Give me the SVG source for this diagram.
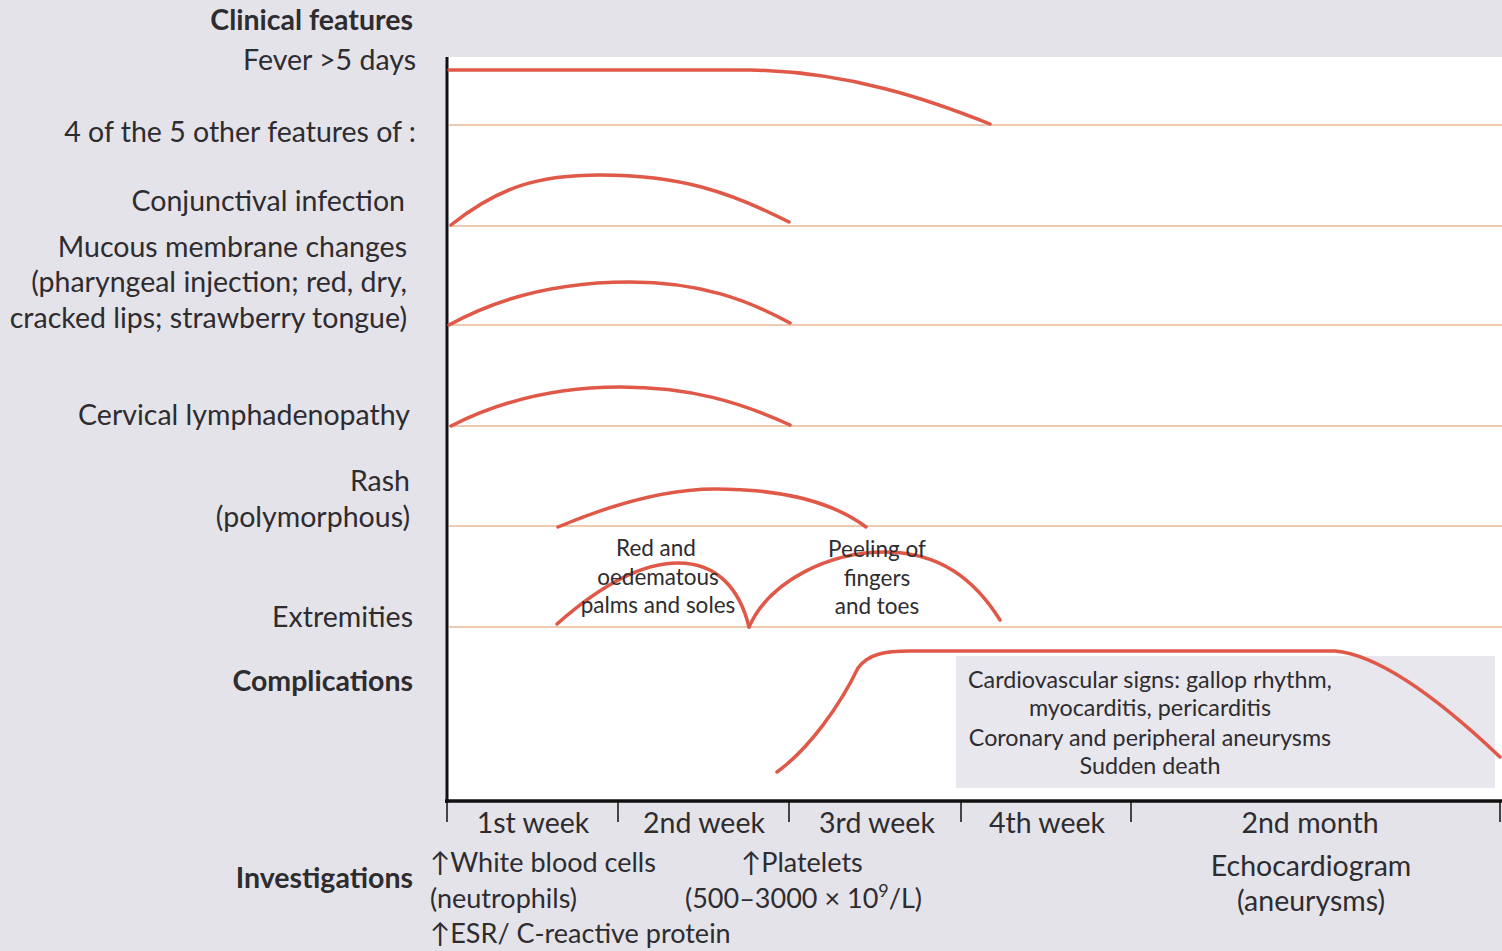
<svg xmlns="http://www.w3.org/2000/svg" width="1502" height="951" viewBox="0 0 1502 951">
<style>
text{font-family:Lato,"Open Sans","Noto Sans",sans-serif;fill:#2e2c2f;}
.lab{font-size:28.5px;text-anchor:end;}
.b{font-weight:bold;}
.ax{font-size:28.5px;text-anchor:middle;}
.inv{font-size:27px;}
.sm{font-size:22.5px;text-anchor:middle;}
.box{font-size:23.3px;text-anchor:middle;}
.grid{stroke:#e9b996;stroke-width:1.6;fill:none;}
.curve{stroke:#e05848;stroke-width:3.5;fill:none;stroke-linecap:round;}
.axis{stroke:#111;fill:none;}
</style>
<rect x="0" y="0" width="1502" height="951" fill="#e4e3ea"/>
<rect x="447" y="57" width="1055" height="744" fill="#ffffff"/>
<rect x="956" y="656" width="539" height="132" fill="#e8e7ee"/>
<g id="grid">
<line class="grid" x1="449" y1="125" x2="1502" y2="125"/>
<line class="grid" x1="449" y1="226" x2="1502" y2="226"/>
<line class="grid" x1="449" y1="325" x2="1502" y2="325"/>
<line class="grid" x1="449" y1="426" x2="1502" y2="426"/>
<line class="grid" x1="449" y1="526" x2="1502" y2="526"/>
<line class="grid" x1="449" y1="627" x2="1502" y2="627"/>
</g>
<g id="axes">
<line class="axis" x1="447" y1="57" x2="447" y2="803" stroke-width="3"/>
<line class="axis" x1="445" y1="801" x2="1502" y2="801" stroke-width="3.5"/>
<line class="axis" x1="447" y1="801" x2="447" y2="822" stroke-width="1.5"/>
<line class="axis" x1="618" y1="801" x2="618" y2="822" stroke-width="1.5"/>
<line class="axis" x1="789" y1="801" x2="789" y2="822" stroke-width="1.5"/>
<line class="axis" x1="961" y1="801" x2="961" y2="822" stroke-width="1.5"/>
<line class="axis" x1="1131" y1="801" x2="1131" y2="822" stroke-width="1.5"/>
<line class="axis" x1="1500" y1="801" x2="1500" y2="822" stroke-width="1.5"/>
</g>
<g id="curves">
<path class="curve" d="M449,70 L750,70 C850,72 930,100 990,124"/>
<path class="curve" d="M451,225 C500,186 540,175 600,175 C680,175 730,192 789,222"/>
<path class="curve" d="M449,325 C505,294 565,282 630,282 C700,282 748,300 790,323"/>
<path class="curve" d="M451,426 C510,396 570,387 620,387 C690,387 740,402 790,425"/>
<path class="curve" d="M558,527 C620,501 670,489 715,489 C780,489 830,500 866,527"/>
<path class="curve" d="M557,624 C600,586 640,563 678,563 C718,563 740,590 749,627"/>
<path class="curve" d="M749,627 C770,580 830,552 885,552 C940,552 975,580 1000,620"/>
<path class="curve" d="M777,772 C810,748 840,705 858,668 C868,654 885,651 910,651 L1335,651 C1380,655 1440,700 1500,757"/>
</g>
<g id="labels">
<text class="lab b" x="413" y="30">Clinical features</text>
<text class="lab" x="416" y="70">Fever &gt;5 days</text>
<text class="lab" x="416" y="142">4 of the 5 other features of :</text>
<text class="lab" x="405" y="211">Conjunctival infection</text>
<text class="lab" x="407" y="257">Mucous membrane changes</text>
<text class="lab" x="407" y="292">(pharyngeal injection; red, dry,</text>
<text class="lab" x="407" y="328">cracked lips; strawberry tongue)</text>
<text class="lab" x="410" y="425">Cervical lymphadenopathy</text>
<text class="lab" x="410" y="491">Rash</text>
<text class="lab" x="410" y="527">(polymorphous)</text>
<text class="lab" x="413" y="627">Extremities</text>
<text class="lab b" x="413" y="691">Complications</text>
<text class="lab b" x="413" y="888">Investigations</text>
</g>
<g id="extremity-notes">
<text class="sm" x="656" y="556">Red and</text>
<text class="sm" x="658" y="585">oedematous</text>
<text class="sm" x="658" y="613">palms and soles</text>
<text class="sm" x="877" y="557">Peeling of</text>
<text class="sm" x="877" y="586">fingers</text>
<text class="sm" x="877" y="614">and toes</text>
</g>
<g id="complications-box">
<text class="box" x="1150" y="688">Cardiovascular signs: gallop rhythm,</text>
<text class="box" x="1150" y="716">myocarditis, pericarditis</text>
<text class="box" x="1150" y="746">Coronary and peripheral aneurysms</text>
<text class="box" x="1150" y="774">Sudden death</text>
</g>
<g id="time-axis">
<text class="ax" x="533" y="833">1st week</text>
<text class="ax" x="704" y="833">2nd week</text>
<text class="ax" x="877" y="833">3rd week</text>
<text class="ax" x="1047" y="833">4th week</text>
<text class="ax" x="1310" y="833">2nd month</text>
</g>
<g id="investigations">
<text class="inv" x="430" y="872">↑White blood cells</text>
<text class="inv" x="430" y="908">(neutrophils)</text>
<text class="inv" x="430" y="943">↑ESR/ C-reactive protein</text>
<text class="inv" x="741" y="872">↑Platelets</text>
<text class="inv" x="685" y="908">(500–3000 × 10<tspan font-size="18" dy="-11">9</tspan><tspan dy="11">/L)</tspan></text>
<text class="ax" x="1311" y="876">Echocardiogram</text>
<text class="ax" x="1311" y="911">(aneurysms)</text>
</g>
</svg>
